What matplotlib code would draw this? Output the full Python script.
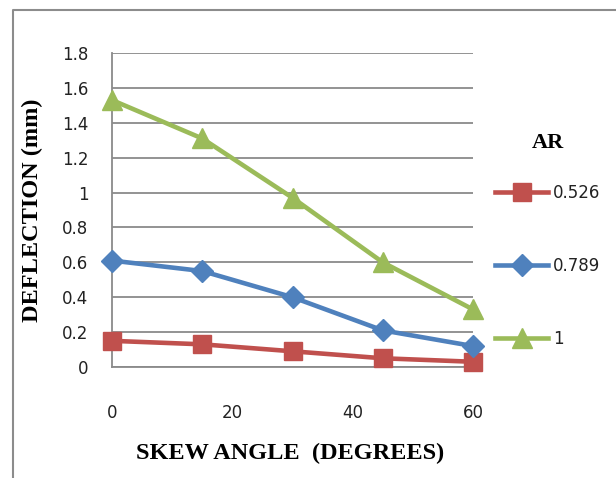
import matplotlib
matplotlib.use("Agg")
import matplotlib.pyplot as plt
from matplotlib.lines import Line2D

# Deflection vs skew angle for three aspect ratios
skew_angle = [0, 15, 30, 45, 60]
ar_labels = ["0.526", "0.789", "1"]
defl_0526 = [0.15, 0.13, 0.09, 0.05, 0.03]
defl_0789 = [0.61, 0.55, 0.40, 0.21, 0.12]
defl_1 = [1.53, 1.31, 0.97, 0.60, 0.33]
y_ticks = [0, 0.2, 0.4, 0.6, 0.8, 1, 1.2, 1.4, 1.6, 1.8]
y_tick_labels = ["0", "0.2", "0.4", "0.6", "0.8", "1", "1.2", "1.4", "1.6", "1.8"]
x_ticks = [0, 20, 40, 60]

W, H = 616, 478
fig = plt.figure(figsize=(W / 100, H / 100), dpi=100)
fig.patch.set_facecolor("white")

# chart frame: left and top edges (the rest runs off the canvas)
fx0, fy_top = 12.5 / W, 1 - 10 / H
fig.add_artist(Line2D([fx0, fx0, 1.3], [-0.3, fy_top, fy_top],
                      transform=fig.transFigure, color="#8c8c8c",
                      linewidth=1.5, zorder=0))

left, right, top, bottom = 112, 473, 53, 367
ax = fig.add_axes([left / W, 1 - bottom / H, (right - left) / W, (bottom - top) / H])

grid_c = "#8a8a8a"
ax.set_xlim(0, 60)
ax.set_ylim(0, 1.8)
ax.set_yticks(y_ticks)
ax.set_yticklabels(y_tick_labels)
ax.set_xticks(x_ticks)
ax.yaxis.grid(True, color=grid_c, linewidth=1.3)
ax.set_axisbelow(True)
ax.spines["right"].set_visible(False)
ax.spines["top"].set_visible(False)
for s in ["left", "bottom"]:
    ax.spines[s].set_color(grid_c)
    ax.spines[s].set_linewidth(1.3)
ax.tick_params(axis="y", length=0, pad=17, labelsize=12, labelcolor="#222222")
ax.tick_params(axis="x", length=0, pad=27, labelsize=12, labelcolor="#222222")

series = [
    (defl_0526, "#C0504D", "s", 13.5),
    (defl_0789, "#4F81BD", "D", 11),
    (defl_1, "#9BBB59", "^", 15),
]
handles = []
for vals, col, mk, ms in series:
    h, = ax.plot(skew_angle, vals, color=col, linewidth=3.3, marker=mk,
                 markersize=ms, markerfacecolor=col, markeredgecolor=col,
                 clip_on=False, zorder=3)
    handles.append(h)

serif = ["Liberation Serif", "DejaVu Serif"]
ax.set_xlabel("SKEW ANGLE  (DEGREES)", fontsize=17.5, fontweight="bold",
              family=serif)
ax.set_ylabel("DEFLECTION (mm)", fontsize=17.5, fontweight="bold",
              family=serif)
ax.xaxis.label.set_va("center")
ax.yaxis.label.set_va("center")
ax.xaxis.set_label_coords((290 - left) / (right - left), -(453 - bottom) / (bottom - top))
ax.yaxis.set_label_coords(-(left - 32) / (right - left), (bottom - 210) / (bottom - top))

fig.text(548 / W, 1 - 143 / H, "AR", fontsize=16, fontweight="bold",
         family=serif, ha="center", va="center")

leg = fig.legend(handles, ar_labels, loc="upper left",
                 bbox_to_anchor=(495 / W, 1 - 184 / H), frameon=False,
                 fontsize=12, labelspacing=3.3, handlelength=3.2,
                 handletextpad=0.3, borderaxespad=0, borderpad=0)
for t in leg.get_texts():
    t.set_color("#222222")

fig.savefig("out.png", dpi=100)
